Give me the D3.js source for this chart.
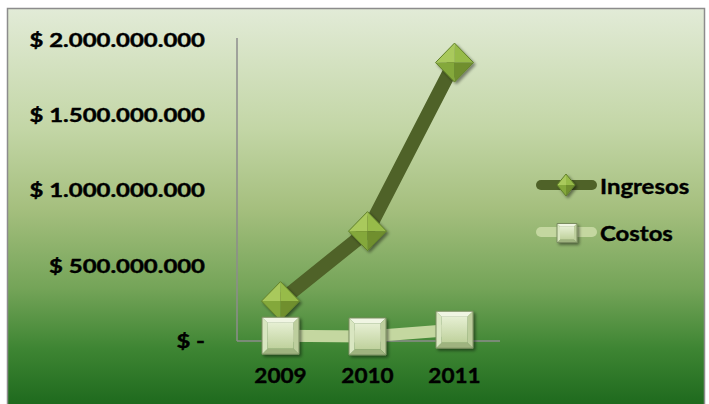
<!DOCTYPE html>
<html>
<head>
<meta charset="utf-8">
<script src="https://cdn.jsdelivr.net/npm/d3@7"></script>
<style>
  body { margin: 0; background: #fff; }
  svg text { font-family: Lato, "Open Sans", sans-serif; font-weight: bold; fill: #000; stroke: #000; stroke-width: 0.4px; }
</style>
</head>
<body>
<svg id="chart" width="709" height="404"></svg>
<script>
// data
let years = ["2009", "2010", "2011"]
let ingresos = [265000000, 730000000, 1850000000]
let costos = [35000000, 30000000, 75000000]
let yTicks = [0, 500000000, 1000000000, 1500000000, 2000000000]
let seriesNames = ["Ingresos", "Costos"]

let svg = d3.select("#chart")

let defs = svg.append("defs")
let bg = defs.append("linearGradient").attr("id", "bg")
    .attr("x1", 0).attr("y1", 0).attr("x2", 0).attr("y2", 1)
bg.selectAll("stop")
    .data([[0, "#e2ebd7"], [0.3, "#c3d6a6"], [0.5, "#a5bf7e"], [0.7, "#74a458"], [0.85, "#3e8533"], [1, "#1c681c"]])
    .join("stop")
    .attr("offset", d => d[0])
    .attr("stop-color", d => d[1])

let sqGrad = defs.append("linearGradient").attr("id", "sq")
    .attr("x1", 0).attr("y1", 0).attr("x2", 0).attr("y2", 1)
sqGrad.append("stop").attr("offset", 0).attr("stop-color", "#e6efd3")
sqGrad.append("stop").attr("offset", 1).attr("stop-color", "#bfd19c")

let shadow = defs.append("filter").attr("id", "shadow")
    .attr("x", "-30%").attr("y", "-30%").attr("width", "170%").attr("height", "170%")
shadow.append("feDropShadow").attr("dx", 2).attr("dy", 2).attr("stdDeviation", 1.5)
    .attr("flood-color", "#000").attr("flood-opacity", 0.45)

// frame
svg.append("rect")
    .attr("x", 7.5).attr("y", 8.5)
    .attr("width", 697).attr("height", 400)
    .attr("fill", "url(#bg)")
    .attr("stroke", "#8c8c8c")
    .attr("stroke-width", 1.5)

// scales
let x = d3.scaleBand().domain(years).range([237, 498])
let y = d3.scaleLinear().domain([0, 2000000000]).range([341, 40])

let loc = d3.formatLocale({ decimal: ",", thousands: ".", grouping: [3], currency: ["$ ", ""] })
let fmt = loc.format(",.0f")

let yAxis = svg.append("g")
    .attr("transform", "translate(237,0)")
    .call(d3.axisLeft(y).tickValues(yTicks).tickSize(0).tickPadding(32)
        .tickFormat(d => d === 0 ? "$ -" : "$ " + fmt(d)))
yAxis.select(".domain").attr("stroke", "#8c8c8c").attr("stroke-width", 1.5)
    .attr("d", "M0,38V341")
yAxis.selectAll("text")
    .style("font-size", "18px")
    .attr("x", 0)
    .attr("dy", "0.36em")
    .attr("transform", "translate(-32,0) scale(1.33,1)")

let xAxis = svg.append("g")
    .attr("transform", "translate(0,341)")
    .call(d3.axisBottom(x).tickSize(0))
xAxis.select(".domain").attr("stroke", "#8c8c8c").attr("stroke-width", 1.5)
    .attr("d", "M237,0H500")
xAxis.selectAll("text")
    .style("font-size", "20.5px")
    .attr("y", 42)
    .attr("dy", 0)
    .attr("transform", "scale(1.1,1)")

// marker drawing
function diamond(g, cx, cy, rx, ry) {
    let t = [cx, cy - ry], rr = [cx + rx, cy], b = [cx, cy + ry], l = [cx - rx, cy], c = [cx, cy]
    let grp = g.append("g").attr("filter", "url(#shadow)")
    let faces = [
        [[l, t, c], "#a9c95c"],
        [[t, rr, c], "#97bb48"],
        [[rr, b, c], "#6f8f2e"],
        [[b, l, c], "#84a83b"]
    ]
    faces.forEach(f => {
        grp.append("path").attr("d", d3.line()(f[0]) + "Z").attr("fill", f[1])
    })
    grp.append("path").attr("d", d3.line()([t, rr, b, l]) + "Z")
        .attr("fill", "none").attr("stroke", "#61802a").attr("stroke-width", 1)
}

function square(g, cx, cy, w, hgt) {
    let h = w / 2, v = hgt / 2, i = w * 0.15
    let o = [[cx - h, cy - v], [cx + h, cy - v], [cx + h, cy + v], [cx - h, cy + v]]
    let n = [[cx - h + i, cy - v + i], [cx + h - i, cy - v + i], [cx + h - i, cy + v - i], [cx - h + i, cy + v - i]]
    let grp = g.append("g").attr("filter", "url(#shadow)")
    let faces = [
        [[o[0], o[1], n[1], n[0]], "#f0f5e3"],
        [[o[1], o[2], n[2], n[1]], "#bdce9d"],
        [[o[2], o[3], n[3], n[2]], "#9fb37f"],
        [[o[3], o[0], n[0], n[3]], "#d9e6c1"]
    ]
    faces.forEach(f => {
        grp.append("path").attr("d", d3.line()(f[0]) + "Z").attr("fill", f[1])
    })
    grp.append("path").attr("d", d3.line()(n) + "Z").attr("fill", "url(#sq)")
    grp.append("path").attr("d", d3.line()(o) + "Z")
        .attr("fill", "none").attr("stroke", "#7a8c60").attr("stroke-width", 1)
}

let cx = d => x(d) + x.bandwidth() / 2
let line = d3.line().x((d, i) => cx(years[i])).y(d => y(d))

// Ingresos
svg.append("path").datum(ingresos)
    .attr("d", line)
    .attr("fill", "none").attr("stroke", "#4f6228").attr("stroke-width", 14)
ingresos.forEach((v, i) => diamond(svg, cx(years[i]), y(v), 19, 19.5))

// Costos
svg.append("path").datum(costos)
    .attr("d", line)
    .attr("fill", "none").attr("stroke", "#c4d7a0").attr("stroke-width", 12)
costos.forEach((v, i) => square(svg, cx(years[i]), y(v), 37, 37))

// legend
let legend = svg.append("g")
let lgY = [185, 232]
legend.append("line").attr("x1", 541).attr("x2", 592).attr("y1", lgY[0]).attr("y2", lgY[0])
    .attr("stroke", "#4f6228").attr("stroke-width", 10).attr("stroke-linecap", "round")
diamond(legend, 566, lgY[0], 9, 11)
legend.append("line").attr("x1", 541).attr("x2", 592).attr("y1", lgY[1]).attr("y2", lgY[1])
    .attr("stroke", "#c4d7a0").attr("stroke-width", 10).attr("stroke-linecap", "round")
square(legend, 567, lgY[1] + 1, 20, 19)
legend.selectAll("text.lg")
    .data(seriesNames)
    .join("text")
    .attr("class", "lg")
    .attr("transform", (d, i) => `translate(600,${lgY[i] + 9}) scale(1.14,1)`)
    .style("font-size", "21px")
    .text(d => d)
</script>
</body>
</html>
